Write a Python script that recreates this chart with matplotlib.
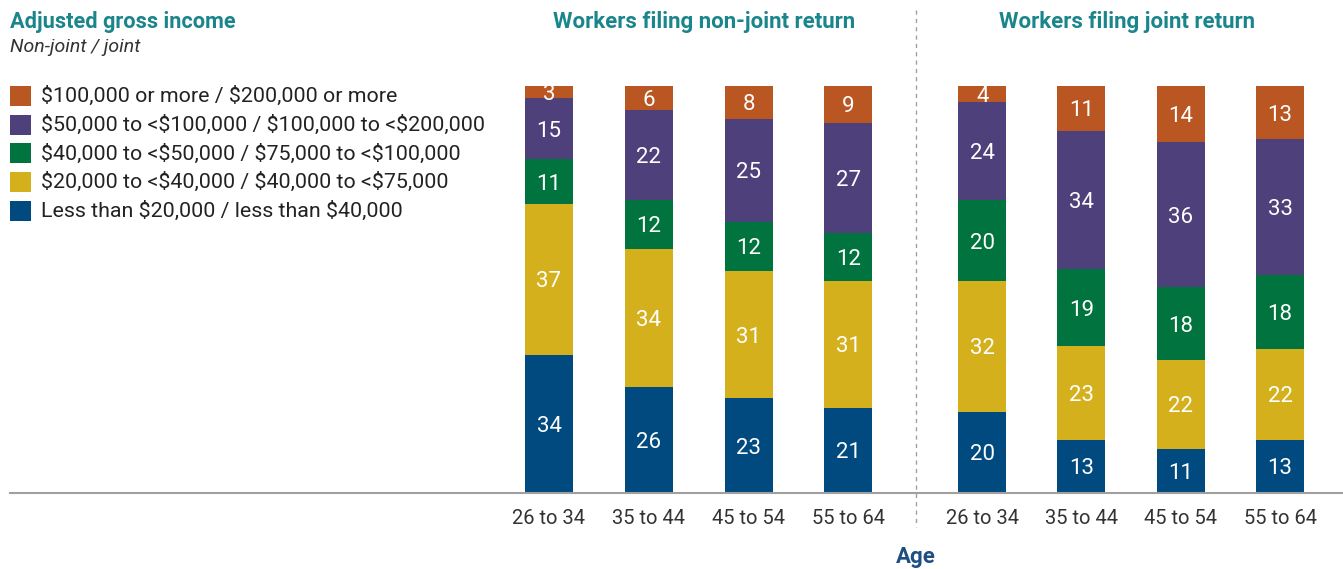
import matplotlib
matplotlib.use("Agg")
import matplotlib.pyplot as plt
from matplotlib.patches import Rectangle
import numpy as np

plt.rcParams['font.family'] = ['Roboto', 'DejaVu Sans']
plt.rcParams['text.parse_math'] = False

age_groups = ["26 to 34", "35 to 44", "45 to 54", "55 to 64"]
panel_titles = ["Workers filing non-joint return", "Workers filing joint return"]
legend_labels = [
    "$100,000 or more / $200,000 or more",
    "$50,000 to <$100,000 / $100,000 to <$200,000",
    "$40,000 to <$50,000 / $75,000 to <$100,000",
    "$20,000 to <$40,000 / $40,000 to <$75,000",
    "Less than $20,000 / less than $40,000",
]
# bottom to top order
less_low = [34, 26, 23, 21, 20, 13, 11, 13]
low_mid = [37, 34, 31, 31, 32, 23, 22, 22]
mid = [11, 12, 12, 12, 20, 19, 18, 18]
upper_mid = [15, 22, 25, 27, 24, 34, 36, 33]
top = [3, 6, 8, 9, 4, 11, 14, 13]
series = [less_low, low_mid, mid, upper_mid, top]
colors = ["#004A80", "#D4B01C", "#00733E", "#4E407A", "#BA5622"]

W, H = 1343, 569
fig = plt.figure(figsize=(W / 100, H / 100), dpi=100)
ax = fig.add_axes([0, 0, 1, 1])
ax.set_axis_off()

px_per_unit = 4.07
base_py = 493
ax.set_ylim((base_py - H) / px_per_unit, base_py / px_per_unit)
x0_px = 549
spacing = 99.8
ax.set_xlim(-x0_px / spacing, (W - x0_px) / spacing)

gap = 4.34
xpos = np.array([i for i in range(4)] + [gap + i * 0.995 for i in range(4)])
width = 0.48

data = np.array(series, dtype=float)
totals = data.sum(axis=0)
shares = data / totals * 100  # rounded labels; bars drawn as shares of 100%

bottom = np.zeros(len(xpos))
for vals, labs, c in zip(shares, data, colors):
    ax.bar(xpos, vals, width=width, bottom=bottom, color=c, linewidth=0, zorder=2)
    for x, b, v, lab in zip(xpos, bottom, vals, labs):
        ax.text(x, b + v / 2 - 0.6, f"{int(lab)}", ha="center", va="center",
                color="white", fontsize=16, zorder=3)
    bottom += vals

def fx(px):
    return px / W

def fy(py):
    return 1 - py / H

fig.add_artist(plt.Line2D([fx(10), 1], [fy(493), fy(493)], color="#A0A0A0", lw=1.5))
fig.add_artist(plt.Line2D([fx(916), fx(916)], [fy(10), fy(527)], color="#A0A0A0",
                          lw=1, ls=(0, (3, 3))))

for x, lab in zip(xpos, age_groups * 2):
    ax.text(x, (base_py - 518) / px_per_unit, lab, ha="center", va="center",
            color="#333333", fontsize=14.5)

ax.text(1.55, (base_py - 22) / px_per_unit, panel_titles[0], ha="center", va="center",
        color="#1A868C", fontsize=16, fontweight="bold")
ax.text(gap + 1.45, (base_py - 22) / px_per_unit, panel_titles[1], ha="center",
        va="center", color="#1A868C", fontsize=16, fontweight="bold")

fig.text(fx(916), fy(557), "Age", ha="center", va="center", color="#1F4E82",
         fontsize=16, fontweight="bold")

fig.text(fx(10), fy(22), "Adjusted gross income", ha="left", va="center",
         color="#1A868C", fontsize=15.7, fontweight="bold")
fig.text(fx(10), fy(47), "Non-joint / joint", ha="left", va="center",
         color="#333333", fontsize=14, fontstyle="italic")

leg_colors = colors[::-1]
for i, (lab, c) in enumerate(zip(legend_labels, leg_colors)):
    cy = 96 + i * 28.7
    fig.add_artist(Rectangle((fx(10), fy(cy + 10)), fx(21), 20 / H,
                             facecolor=c, edgecolor="none"))
    fig.text(fx(41), fy(cy), lab, ha="left", va="center", color="#222222",
             fontsize=15.4)

fig.savefig("out.png", dpi=100)
